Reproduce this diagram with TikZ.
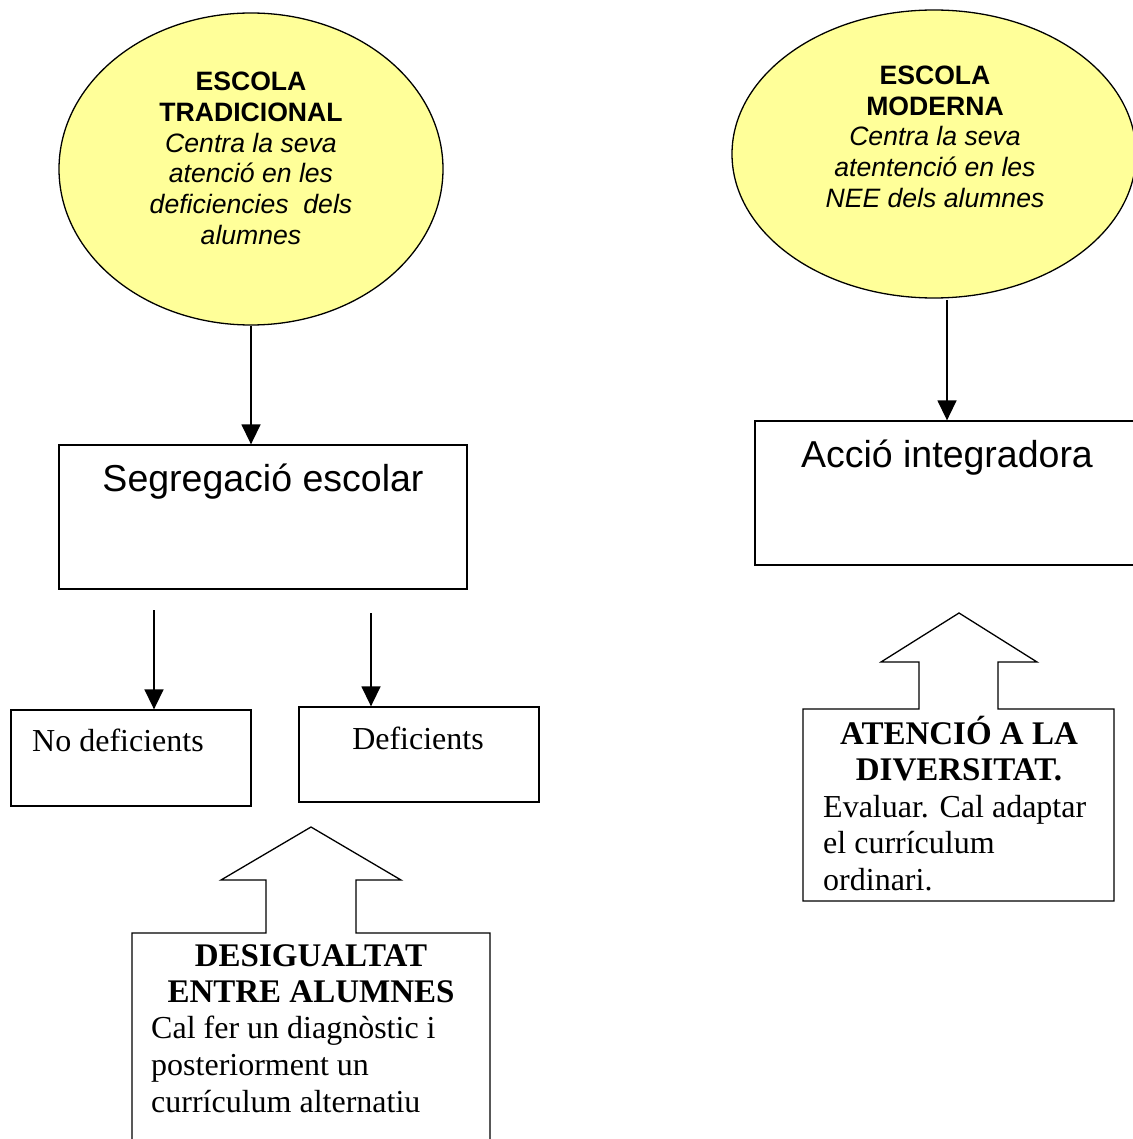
\documentclass[tikz,border=0pt]{standalone}
\usepackage{fontspec}
\setmainfont{Liberation Serif}
\newfontfamily\arial{Liberation Sans}
\usetikzlibrary{shapes.geometric,arrows.meta}
\definecolor{elly}{RGB}{255,255,153}
\begin{document}
\begin{tikzpicture}[x=1pt,y=-1pt,
  ell/.style={draw,line width=1.3pt,ellipse,fill=elly,inner sep=0pt},
  box/.style={draw,line width=1.3pt,rectangle,inner sep=0pt},
  conn/.style={line width=1.5pt,-{Triangle[length=20pt,width=19pt]}},
  blk/.style={draw,line width=1.3pt,line join=miter,fill=white},
  et/.style={font=\arial\fontsize{26.6}{30}\selectfont,anchor=base,inner sep=0pt},
  big/.style={font=\arial\fontsize{37.5}{42}\selectfont,anchor=base,inner sep=0pt},
  tr/.style={font=\fontsize{32}{36}\selectfont,anchor=base,inner sep=0pt},
  trb/.style={font=\bfseries\fontsize{33}{36}\selectfont,anchor=base,inner sep=0pt},
  trl/.style={font=\fontsize{32}{36}\selectfont,anchor=base west,inner sep=0pt}]
\useasboundingbox (0,0) rectangle (1132,1139);

% ellipses
\node[ell,minimum width=384pt,minimum height=312pt] (e1) at (251,169) {};
\node[ell,minimum width=404pt,minimum height=288pt] (e2) at (934,154) {};

\node[et] (e1a) at (251,91) {\bfseries ESCOLA};
\node[et] (e1b) at (251,122) {\bfseries TRADICIONAL};
\node[et] (e1c) at (251,153) {\itshape Centra la seva};
\node[et] (e1d) at (251,183) {\itshape atenció en les};
\node[et] (e1e) at (251,214) {\itshape deficiencies\ \ dels};
\node[et] (e1f) at (251,245) {\itshape alumnes};

\node[et] (e2a) at (935,85) {\bfseries ESCOLA};
\node[et] (e2b) at (935,115.5) {\bfseries MODERNA};
\node[et] (e2c) at (935,146) {\itshape Centra la seva};
\node[et] (e2d) at (935,177) {\itshape atentenció en les};
\node[et] (e2e) at (935,208) {\itshape NEE dels alumnes};

% main boxes
\node[box,minimum width=408pt,minimum height=144pt] (seg) at (263,517) {};
\node[big] (segt) at (263,491) {Segregació escolar};
\node[box,minimum width=390pt,minimum height=144pt] (acc) at (950,493) {};
\node[big] (acct) at (947,467) {Acció integradora};

\draw[conn] (e1.south) -- (e1.south |- seg.north);
\coordinate (e2b0) at (947,300);
\draw[conn] (e2b0) -- (e2b0 |- acc.north);

% small boxes
\node[box,minimum width=240pt,minimum height=96pt] (nod) at (131,758) {};
\node[box,minimum width=240pt,minimum height=95pt] (def) at (419,754.5) {};
\node[trl] (nodt) at (32,751) {No deficients};
\node[tr] (deft) at (418,749) {Deficients};

\coordinate (s1) at (154,610);
\coordinate (s2) at (371,613);
\draw[conn] (s1) -- (s1 |- nod.north);
\draw[conn] (s2) -- (s2 |- def.north);

% block arrow callout left
\coordinate (c1a) at (132,1150);
\coordinate (c1b) at (132,933);
\coordinate (c1c) at (266,933);
\coordinate (c1d) at (266,880);
\coordinate (c1e) at (221,880);
\coordinate (c1f) at (311,827);
\coordinate (c1g) at (401,880);
\coordinate (c1h) at (356,880);
\coordinate (c1i) at (356,933);
\coordinate (c1j) at (490,933);
\coordinate (c1k) at (490,1150);
\draw[blk] (c1a) -- (c1b) -- (c1c) -- (c1d) -- (c1e) -- (c1f) -- (c1g) -- (c1h) -- (c1i) -- (c1j) -- (c1k);
\node[trb] (d1) at (311,966) {DESIGUALTAT};
\node[trb] (d2) at (311,1002) {ENTRE ALUMNES};
\node[trl] (d3) at (151,1038) {Cal fer un diagnòstic i};
\node[trl] (d4) at (151,1075) {posteriorment un};
\node[trl] (d5) at (151,1112) {currículum alternatiu};

% block arrow callout right
\coordinate (c2a) at (803,709);
\coordinate (c2b) at (919,709);
\coordinate (c2c) at (919,662);
\coordinate (c2d) at (881,662);
\coordinate (c2e) at (959,613);
\coordinate (c2f) at (1037,662);
\coordinate (c2g) at (998,662);
\coordinate (c2h) at (998,709);
\coordinate (c2i) at (1114,709);
\coordinate (c2j) at (1114,901);
\coordinate (c2k) at (803,901);
\draw[blk] (c2a) -- (c2b) -- (c2c) -- (c2d) -- (c2e) -- (c2f) -- (c2g) -- (c2h) -- (c2i) -- (c2j) -- (c2k) -- cycle;
\node[trb] (r1) at (959,744) {ATENCIÓ A LA};
\node[trb] (r2) at (959,780) {DIVERSITAT.};
\node[trl] (r3) at (823,817) {Evaluar. Cal adaptar};
\node[trl] (r4) at (823,853) {el currículum};
\node[trl] (r5) at (823,890) {ordinari.};
\end{tikzpicture}
\end{document}
